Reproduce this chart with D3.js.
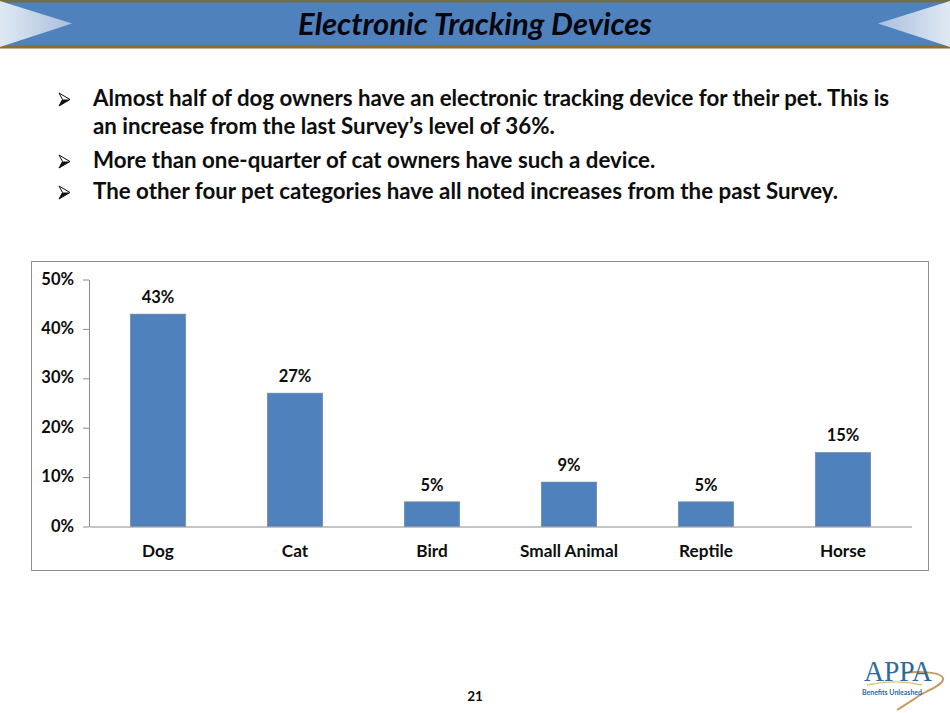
<!DOCTYPE html>
<html>
<head>
<meta charset="utf-8">
<script src="https://cdn.jsdelivr.net/npm/d3@7"></script>
<style>
  html, body { margin: 0; padding: 0; background: #fff; }
  text { font-family: Lato, "Open Sans", sans-serif; font-weight: 700; fill: #0d0d0d; }
</style>
</head>
<body>
<div id="chart-area"></div>
<script>
const categories = ["Dog", "Cat", "Bird", "Small Animal", "Reptile", "Horse"]
const values = [43, 27, 5, 9, 5, 15]
const yTicks = [0, 10, 20, 30, 40, 50]

const titleText = "Electronic Tracking Devices"
const bulletLines = [
  { text: "Almost half of dog owners have an electronic tracking device for their pet. This is", y: 106, arrow: true },
  { text: "an increase from the last Survey\u2019s level of 36%.", y: 134, arrow: false },
  { text: "More than one-quarter of cat owners have such a device.", y: 168, arrow: true },
  { text: "The other four pet categories have all noted increases from the past Survey.", y: 199, arrow: true }
]
const pageNumber = "21"

const WIDTH = 950
const HEIGHT = 713
const MARGIN = { LEFT: 89, RIGHT: 39, TOP: 279, BOTTOM: 186 }

const svg = d3.select("#chart-area").append("svg")
  .attr("width", WIDTH)
  .attr("height", HEIGHT)
  .style("display", "block")

const defs = svg.append("defs")
const leftGrad = defs.append("linearGradient").attr("id", "tri-left")
leftGrad.append("stop").attr("offset", "0%").attr("stop-color", "#dfe9f3")
leftGrad.append("stop").attr("offset", "100%").attr("stop-color", "#a9bfdc")
const rightGrad = defs.append("linearGradient").attr("id", "tri-right")
rightGrad.append("stop").attr("offset", "0%").attr("stop-color", "#a9bfdc")
rightGrad.append("stop").attr("offset", "100%").attr("stop-color", "#dfe9f3")

// Banner
svg.append("rect").attr("width", WIDTH).attr("height", 46).attr("fill", "#4f81bd")
svg.append("rect").attr("width", WIDTH).attr("height", 2.5).attr("fill", "#6f7048")
svg.append("rect").attr("y", 45.5).attr("width", WIDTH).attr("height", 3).attr("fill", "#8f6f25")
svg.append("path").attr("d", "M0,1 L72,23.5 L0,47 Z").attr("fill", "url(#tri-left)")
svg.append("path").attr("d", "M950,1 L878,23.5 L950,47 Z").attr("fill", "url(#tri-right)")

svg.append("text")
  .attr("x", 475).attr("y", 35)
  .attr("text-anchor", "middle")
  .attr("font-size", "31px")
  .attr("font-style", "italic")
  .style("fill", "#06060f")
  .text(titleText)

// Bullets
const bullets = svg.append("g")
bullets.selectAll("text.line")
  .data(bulletLines)
  .enter().append("text")
  .attr("class", "line")
  .attr("x", 93)
  .attr("y", d => d.y)
  .attr("font-size", "22.3px")
  .text(d => d.text)

const arrows = bullets.selectAll("g.arrow")
  .data(bulletLines.filter(d => d.arrow))
  .enter().append("g")
  .attr("class", "arrow")
  .attr("transform", d => `translate(59, ${d.y - 13})`)
arrows.append("path")
  .attr("d", "M0,0 L11,6.5 L0,13 L3.5,6.5 Z")
  .attr("fill", "#fff")
  .attr("stroke", "#111")
  .attr("stroke-width", 1)
arrows.append("path")
  .attr("d", "M3.5,6.5 L11,6.5 L0,13 Z")
  .attr("fill", "#111")

// Chart frame
svg.append("rect")
  .attr("x", 31.5).attr("y", 261.5)
  .attr("width", 897).attr("height", 309)
  .attr("fill", "#fff")
  .attr("stroke", "#8c8c8c")

const plotH = HEIGHT - MARGIN.TOP - MARGIN.BOTTOM
const g = svg.append("g")
  .attr("transform", `translate(${MARGIN.LEFT}, ${MARGIN.TOP})`)

const x = d3.scaleBand()
  .domain(categories)
  .range([0.5, 822.5])
  .paddingInner(0.595)
  .paddingOuter(0.2975)
const y = d3.scaleLinear()
  .domain([0, 50])
  .range([plotH - 0.5, 0.5])

const xAxisCall = d3.axisBottom(x).tickSize(0).tickPadding(18)
const yAxisCall = d3.axisLeft(y)
  .tickValues(yTicks)
  .tickFormat(d => d + "%")
  .tickSize(6)
  .tickSizeOuter(0)
  .tickPadding(9)

g.selectAll("rect.bar")
  .data(values)
  .enter().append("rect")
  .attr("class", "bar")
  .attr("x", (d, i) => x(categories[i]))
  .attr("y", d => y(d))
  .attr("width", x.bandwidth())
  .attr("height", d => y(0) - y(d))
  .attr("fill", "#4f81bd")
  .attr("stroke", "#7f8a99")
  .attr("stroke-width", 0.6)

g.selectAll("text.value")
  .data(values)
  .enter().append("text")
  .attr("class", "value")
  .attr("x", (d, i) => x(categories[i]) + x.bandwidth() / 2)
  .attr("y", d => y(d) - 11)
  .attr("text-anchor", "middle")
  .attr("font-size", "16.5px")
  .text(d => d + "%")

const xG = g.append("g")
  .attr("transform", `translate(0, ${plotH - 0.5})`)
  .call(xAxisCall)
const yG = g.append("g").call(yAxisCall)

for (const ax of [xG, yG]) {
  ax.selectAll("path, line").attr("stroke", "#8c8c8c")
  ax.selectAll("text")
    .attr("font-size", "16.5px")
    .style("font-family", "Lato, 'Open Sans', sans-serif")
}
xG.selectAll("text").attr("font-size", "17.2px")
yG.selectAll("text").attr("dy", "0.28em")

// Page number
svg.append("text")
  .attr("x", 475).attr("y", 701)
  .attr("text-anchor", "middle")
  .attr("font-size", "13.5px")
  .text(pageNumber)

// APPA logo
const logo = svg.append("g")
logo.append("path")
  .attr("d", "M903,673 C920,671 943,672 943,679 C943,686 925,691 917,697 C910,702 903,706 897,710")
  .attr("fill", "none").attr("stroke", "#c9995f").attr("stroke-width", 2)
logo.append("path")
  .attr("d", "M867,685 C885,681 905,681 922,685")
  .attr("fill", "none").attr("stroke", "#d9c77a").attr("stroke-width", 1.4)
logo.append("text")
  .attr("x", 864).attr("y", 681)
  .attr("font-size", "30px")
  .attr("textLength", 68)
  .attr("lengthAdjust", "spacingAndGlyphs")
  .style("font-family", "'Liberation Serif', serif")
  .style("font-weight", 400)
  .style("fill", "#2c6aa0")
  .text("APPA")
logo.append("text")
  .attr("x", 862).attr("y", 695)
  .attr("font-size", "6.5px")
  .attr("textLength", 60)
  .attr("lengthAdjust", "spacingAndGlyphs")
  .style("fill", "#2c6aa0")
  .text("Benefits Unleashed")
</script>
</body>
</html>
